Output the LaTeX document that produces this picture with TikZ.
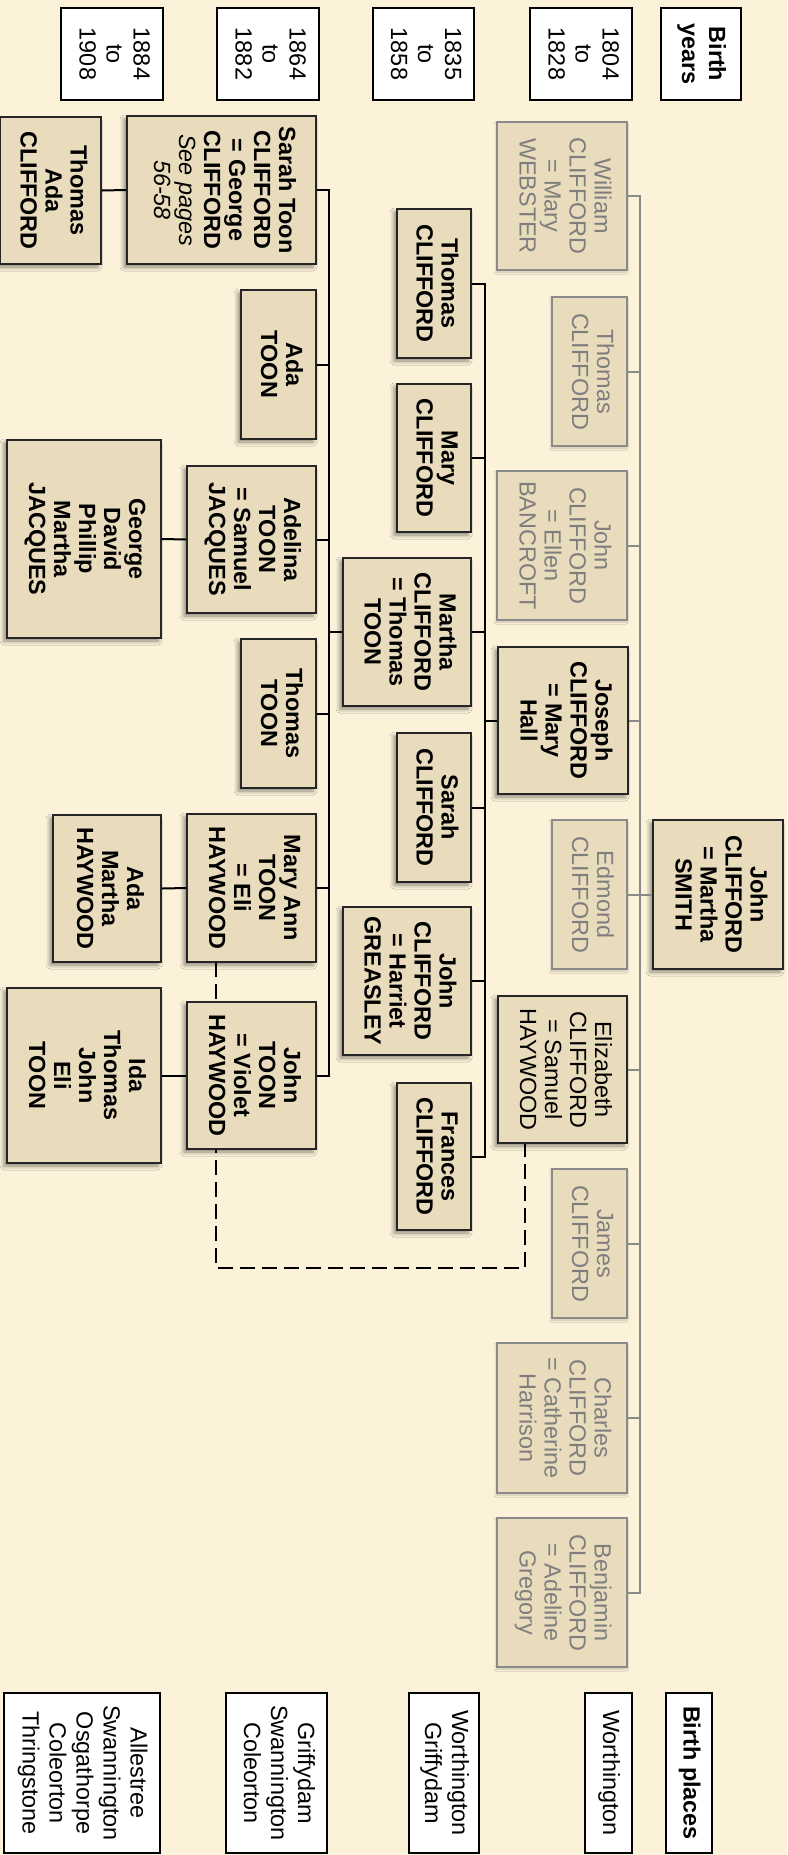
\documentclass[tikz,border=0pt]{standalone}
\usepackage{fontspec}
\usepackage{graphicx}
\setmainfont{Liberation Sans}
\usetikzlibrary{shadows,shadows.blur,calc}
\definecolor{bgc}{HTML}{FCF2DA}
\definecolor{boxc}{HTML}{E9DCBC}
\definecolor{grayt}{HTML}{7E7E7E}
\definecolor{grayl}{HTML}{8A8A8A}
\newcommand\rt[1]{\rotatebox{-90}{\begin{tabular}{@{}c@{}}#1\end{tabular}}}
\tikzset{
  pbox/.style={draw=black!85, line width=2pt, fill=boxc, inner sep=0pt, align=center,
    font=\fontsize{23.4}{25}\selectfont\bfseries,
    blur shadow={shadow xshift=-3pt, shadow yshift=-3pt, shadow blur radius=4pt, shadow opacity=45}},
  ebox/.style={pbox, font=\fontsize{23.4}{25}\selectfont},
  gbox/.style={draw=grayl, line width=1.6pt, fill=boxc, inner sep=0pt, align=center,
    text=grayt, font=\fontsize{23.4}{25}\selectfont,
    blur shadow={shadow xshift=-1pt, shadow yshift=-2pt, shadow blur radius=2pt, shadow opacity=20}},
  hbox/.style={draw=black, line width=1.5pt, fill=white, inner sep=0pt, align=center,
    font=\fontsize{23.4}{27}\selectfont},
  bline/.style={draw=black, line width=2pt},
  gline/.style={draw=grayl, line width=2pt},
  dline/.style={draw=black, line width=2pt, dash pattern=on 15pt off 7pt},
}
\begin{document}
\begin{tikzpicture}[x=1pt,y=-1pt]
\fill[bgc] (0,0) rectangle (787,1855);
\useasboundingbox (0,0) rectangle (787,1855);

% dashed link (behind boxes)
\coordinate (mab) at (216,962);
\coordinate (elb) at (525,1143);
\draw[dline] (mab) -- (216,1268) -- (525,1268) -- (elb);

% headers
\node[hbox, minimum width=80pt, minimum height=92pt] (byears) at (701,54) {\rt{\textbf{Birth}\\\textbf{years}}};
\node[hbox, minimum width=102pt, minimum height=92pt] (h1) at (581,54) {\rt{1804\\to\\1828}};
\node[hbox, minimum width=101pt, minimum height=92pt] (h2) at (423.5,54) {\rt{1835\\to\\1858}};
\node[hbox, minimum width=102pt, minimum height=92pt] (h3) at (268,54) {\rt{1864\\to\\1882}};
\node[hbox, minimum width=102pt, minimum height=92pt] (h4) at (112,54) {\rt{1884\\to\\1908}};

\node[hbox, minimum width=46pt, minimum height=160pt] (bplaces) at (689,1773) {\rt{\textbf{Birth places}}};
\node[hbox, minimum width=47pt, minimum height=160pt] (p1) at (608.5,1773) {\rt{Worthington}};
\node[hbox, minimum width=70pt, minimum height=160pt] (p2) at (444,1773) {\rt{Worthington\\Griffydam}};
\node[hbox, minimum width=101pt, minimum height=160pt] (p3) at (276.5,1773) {\rt{Griffydam\\Swannington\\Coleorton}};
\node[hbox, minimum width=156pt, minimum height=160pt] (p4) at (82,1773) {\rt{Allestree\\Swannington\\Osgathorpe\\Coleorton\\Thringstone}};

% generation 1
\coordinate (busA) at (640,0);
\coordinate (busB) at (485,0);
\coordinate (busC) at (329,0);

\node[pbox, minimum width=130pt, minimum height=149pt] (root) at (718,894.5) {\rt{John\\CLIFFORD\\= Martha\\SMITH}};
\node[gbox, minimum width=130pt, minimum height=148pt] (william) at (562,196) {\rt{William\\CLIFFORD\\= Mary\\WEBSTER}};
\node[gbox, minimum width=75pt, minimum height=149pt] (thomas1) at (589.5,371.5) {\rt{Thomas\\CLIFFORD}};
\node[gbox, minimum width=130pt, minimum height=149pt] (john1) at (562,545.5) {\rt{John\\CLIFFORD\\= Ellen\\BANCROFT}};
\node[pbox, minimum width=130pt, minimum height=147pt] (joseph) at (563,720.5) {\rt{Joseph\\CLIFFORD\\= Mary\\Hall}};
\node[gbox, minimum width=75pt, minimum height=149pt] (edmond) at (589.5,894.5) {\rt{Edmond\\CLIFFORD}};
\node[ebox, minimum width=129pt, minimum height=147pt] (elizabeth) at (562.5,1069.5) {\rt{Elizabeth\\CLIFFORD\\= Samuel\\HAYWOOD}};
\node[gbox, minimum width=75pt, minimum height=149pt] (james) at (589.5,1243.5) {\rt{James\\CLIFFORD}};
\node[gbox, minimum width=130pt, minimum height=150pt] (charles) at (562,1418) {\rt{Charles\\CLIFFORD\\= Catherine\\Harrison}};
\node[gbox, minimum width=130pt, minimum height=149pt] (benjamin) at (562,1592.5) {\rt{Benjamin\\CLIFFORD\\= Adeline\\Gregory}};

% generation 2
\node[pbox, minimum width=74pt, minimum height=149pt] (thomas2) at (434,283.5) {\rt{Thomas\\CLIFFORD}};
\node[pbox, minimum width=74pt, minimum height=148pt] (mary2) at (434,458) {\rt{Mary\\CLIFFORD}};
\node[pbox, minimum width=128pt, minimum height=148pt] (martha) at (407,632) {\rt{Martha\\CLIFFORD\\= Thomas\\TOON}};
\node[pbox, minimum width=74pt, minimum height=149pt] (sarah2) at (434,807.5) {\rt{Sarah\\CLIFFORD}};
\node[pbox, minimum width=128pt, minimum height=148pt] (john2) at (407,981) {\rt{John\\CLIFFORD\\= Harriet\\GREASLEY}};
\node[pbox, minimum width=74pt, minimum height=147pt] (frances) at (434,1156.5) {\rt{Frances\\CLIFFORD}};

% generation 3
\node[pbox, minimum width=189pt, minimum height=148pt] (sarahT) at (221.5,190) {\rt{Sarah Toon\\CLIFFORD\\= George\\CLIFFORD\\\mdseries\itshape See pages\\\mdseries\itshape 56-58}};
\node[pbox, minimum width=75pt, minimum height=149pt] (adaT) at (278.5,364.5) {\rt{Ada\\TOON}};
\node[pbox, minimum width=129pt, minimum height=147pt] (adelina) at (251.5,539.5) {\rt{Adelina\\TOON\\= Samuel\\JACQUES}};
\node[pbox, minimum width=75pt, minimum height=149pt] (thomasT) at (278.5,713.5) {\rt{Thomas\\TOON}};
\node[pbox, minimum width=129pt, minimum height=148pt] (maryann) at (251.5,888) {\rt{Mary Ann\\TOON\\= Eli\\HAYWOOD}};
\node[pbox, minimum width=129pt, minimum height=147pt] (johnT) at (251.5,1075.5) {\rt{John\\TOON\\= Violet\\HAYWOOD}};

% generation 4
\node[pbox, minimum width=101pt, minimum height=147pt] (thomasA) at (50.5,190.5) {\rt{Thomas\\Ada\\CLIFFORD}};
\node[pbox, minimum width=154pt, minimum height=198pt] (george) at (84,539) {\rt{George\\David\\Phillip\\Martha\\JACQUES}};
\node[pbox, minimum width=108pt, minimum height=147pt] (adaM) at (107,888.5) {\rt{Ada\\Martha\\HAYWOOD}};
\node[pbox, minimum width=154pt, minimum height=175pt] (ida) at (84,1075.5) {\rt{Ida\\Thomas\\John\\Eli\\TOON}};

% connectors gen 1 (gray)
\draw[gline] (william.east) -- (william.east -| busA) -- (benjamin.east -| busA) -- (benjamin.east);
\foreach \n in {thomas1,john1,joseph,edmond,elizabeth,james,charles}
  \draw[gline] (\n.east) -- (\n.east -| busA);
\draw[gline] (root.west) -- (root.west -| busA);

% connectors gen 2
\draw[bline] (thomas2.east) -- (thomas2.east -| busB) -- (frances.east -| busB) -- (frances.east);
\foreach \n in {mary2,martha,sarah2,john2}
  \draw[bline] (\n.east) -- (\n.east -| busB);
\draw[bline] (joseph.west) -- (joseph.west -| busB);

% connectors gen 3
\draw[bline] (sarahT.east) -- (sarahT.east -| busC) -- (johnT.east -| busC) -- (johnT.east);
\foreach \n in {adaT,adelina,thomasT,maryann}
  \draw[bline] (\n.east) -- (\n.east -| busC);
\draw[bline] (martha.west) -- (martha.west -| busC);

% connectors gen 4
\draw[bline] (sarahT.west) -- (thomasA.east);
\draw[bline] (adelina.west) -- (george.east);
\draw[bline] (maryann.west) -- (adaM.east);
\draw[bline] (johnT.west) -- (ida.east);
\end{tikzpicture}
\end{document}
